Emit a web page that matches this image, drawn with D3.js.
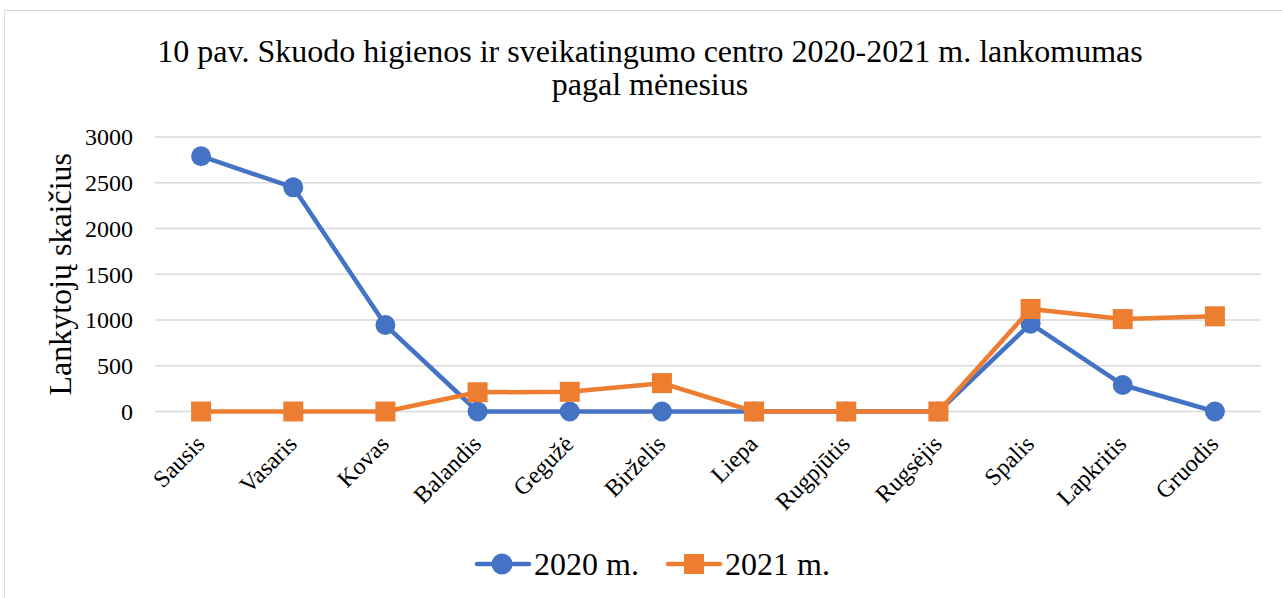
<!DOCTYPE html>
<html>
<head>
<meta charset="utf-8">
<script src="https://cdn.jsdelivr.net/npm/d3@7"></script>
<style>
  body { margin: 0; background: #fff; }
  svg text { font-family: "Liberation Serif", "Times New Roman", serif; fill: #000; }
</style>
</head>
<body>
<div id="chart"></div>
<script>
// chart data
var months = ["Sausis","Vasaris","Kovas","Balandis","Gegužė","Birželis","Liepa","Rugpjūtis","Rugsėjis","Spalis","Lapkritis","Gruodis"]
var values2020 = [2790, 2450, 945, 0, 0, 0, 0, 0, 0, 960, 290, 0]
var values2021 = [0, 0, 0, 210, 215, 310, 0, 0, 0, 1120, 1010, 1040]
var yTicks = [0, 500, 1000, 1500, 2000, 2500, 3000]
var seriesNames = ["2020 m.", "2021 m."]

var width = 1282, height = 598
var margin = {top: 137, right: 21, bottom: 186.5, left: 155}
var colors = ["#4472c4", "#ed7d31"]

var svg = d3.select("#chart").append("svg")
    .attr("width", width)
    .attr("height", height)

// outer frame
svg.append("rect")
    .attr("x", 4.5).attr("y", 10.5)
    .attr("width", width + 10).attr("height", height + 10)
    .attr("fill", "none").attr("stroke", "#d9d9d9").attr("stroke-width", 1)

var xScale = d3.scaleBand().domain(months)
    .range([margin.left, width - margin.right])
var yScale = d3.scaleLinear().domain([0, 3000])
    .range([height - margin.bottom, margin.top])

// gridlines
svg.append("g").selectAll("line")
    .data(yTicks).enter().append("line")
    .attr("x1", margin.left).attr("x2", width - margin.right)
    .attr("y1", function(d){ return yScale(d) })
    .attr("y2", function(d){ return yScale(d) })
    .attr("stroke", "#d9d9d9").attr("stroke-width", 1.5)

// y axis labels
var yAxis = d3.axisLeft(yScale).tickValues(yTicks).tickSize(0).tickPadding(0)
    .tickFormat(d3.format("d"))
var yg = svg.append("g")
    .attr("transform", "translate(" + (margin.left - 22) + ",0)")
    .call(yAxis)
yg.select(".domain").remove()
yg.selectAll("text").style("font-size", "24px").attr("dy", "0.33em")
    .style("font-family", "'Liberation Serif', serif")

// x axis labels
var xAxis = d3.axisBottom(xScale).tickSize(0).tickPadding(0)
var xg = svg.append("g")
    .attr("transform", "translate(0," + yScale(0) + ")")
    .call(xAxis)
xg.select(".domain").remove()
xg.selectAll("text")
    .style("font-size", "24px")
    .style("font-family", "'Liberation Serif', serif")
    .style("text-anchor", "end")
    .attr("x", 0).attr("y", 0).attr("dy", 0)
    .attr("transform", "translate(5,34) rotate(-45)")

// title
var title = svg.append("text")
    .attr("x", 650).attr("y", 62)
    .attr("text-anchor", "middle")
    .style("font-size", "32px")
title.append("tspan").attr("x", 650).attr("dy", 0)
    .text("10 pav. Skuodo higienos ir sveikatingumo centro 2020-2021 m. lankomumas")
title.append("tspan").attr("x", 650).attr("dy", 33).text("pagal mėnesius")

// y axis title
svg.append("text")
    .attr("transform", "translate(71," + ((yScale(0) + yScale(3000)) / 2) + ") rotate(-90)")
    .attr("text-anchor", "middle")
    .style("font-size", "32px")
    .text("Lankytojų skaičius")

var lineGen = d3.line()
    .x(function(d, i){ return xScale(months[i]) + xScale.bandwidth() / 2 })
    .y(function(d){ return yScale(d) })

var allSeries = [values2020, values2021]
allSeries.forEach(function(vals, s){
    svg.append("path")
        .attr("d", lineGen(vals))
        .attr("fill", "none")
        .attr("stroke", colors[s])
        .attr("stroke-width", 4.5)
        .attr("stroke-linejoin", "round")
    var g = svg.append("g")
    if (s == 0) {
        g.selectAll("circle").data(vals).enter().append("circle")
            .attr("cx", function(d, i){ return xScale(months[i]) + xScale.bandwidth() / 2 })
            .attr("cy", function(d){ return yScale(d) })
            .attr("r", 10)
            .attr("fill", colors[s])
    } else {
        g.selectAll("rect").data(vals).enter().append("rect")
            .attr("x", function(d, i){ return xScale(months[i]) + xScale.bandwidth() / 2 - 10 })
            .attr("y", function(d){ return yScale(d) - 10 })
            .attr("width", 20).attr("height", 20)
            .attr("fill", colors[s])
    }
})

// legend
var legendX = [475, 666]
seriesNames.forEach(function(name, s){
    var lg = svg.append("g").attr("transform", "translate(" + legendX[s] + ",564)")
    lg.append("line").attr("x1", 2).attr("x2", 54)
        .attr("stroke", colors[s]).attr("stroke-width", 4.5).attr("stroke-linecap", "round")
    if (s == 0) {
        lg.append("circle").attr("cx", 27).attr("r", 10.5).attr("fill", colors[s])
    } else {
        lg.append("rect").attr("x", 18).attr("y", -10).attr("width", 20).attr("height", 20).attr("fill", colors[s])
    }
    lg.append("text").attr("x", 59).attr("y", 11)
        .style("font-size", "32px")
        .text(name)
})
</script>
</body>
</html>
